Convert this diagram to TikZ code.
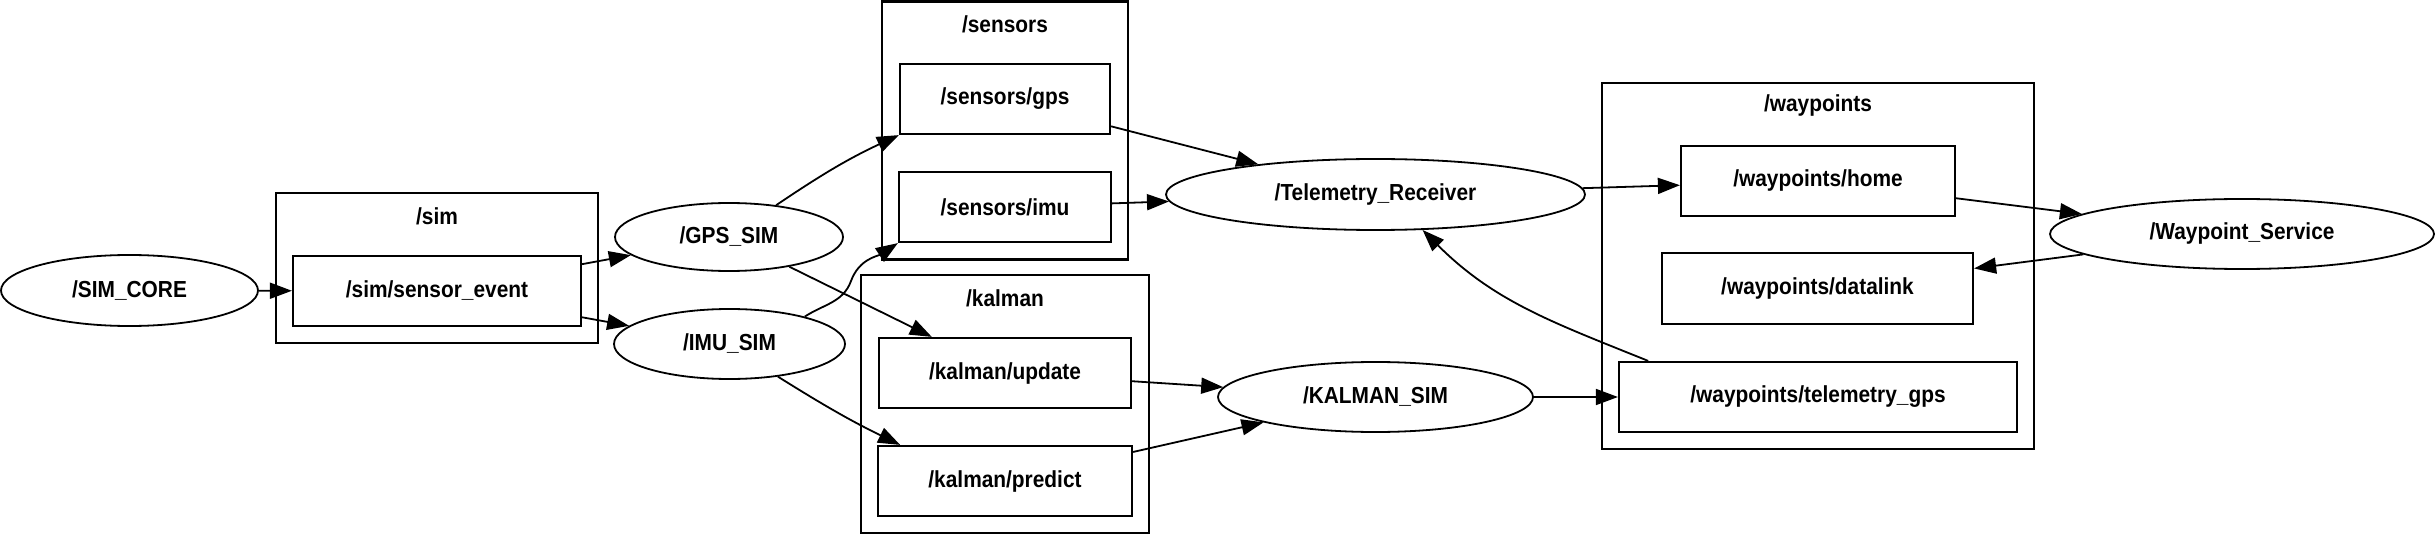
\documentclass[tikz,border=0pt]{standalone}
\usepackage{fontspec}
\setmainfont{Liberation Sans}[FakeStretch=0.9]
\usetikzlibrary{arrows.meta,shapes.geometric}

\begin{document}
\begin{tikzpicture}[
  x=0.5pt, y=-0.5pt,
  every node/.style={font=\bfseries\fontsize{11.6}{13}\selectfont, inner sep=0pt},
  rosnode/.style={ellipse, draw, line width=0.9pt},
  topic/.style={rectangle, draw, line width=1.1pt},
  group/.style={rectangle, draw, line width=1.1pt},
  arr/.style={-{Triangle[length=11pt,width=8pt]}, line width=0.9pt}
]
  \useasboundingbox (0,0) rectangle (2435,534);

  \node[group, minimum width=161pt, minimum height=75pt] (simgrp) at (437,268) {};
  \node (simlbl) at (437,216) {/sim};
  \node[group, minimum width=123pt, minimum height=129pt] (sensgrp) at (1005,130.5) {};
  \node (senslbl) at (1005,24) {/sensors};
  \node[group, minimum width=144pt, minimum height=129pt] (kalgrp) at (1005,404) {};
  \node (kallbl) at (1005,298) {/kalman};
  \node[group, minimum width=216pt, minimum height=183pt] (wpgrp) at (1818,266) {};
  \node (wplbl) at (1818,106) {/waypoints};

  \node[rosnode, minimum width=128.5pt, minimum height=35.5pt] (simcore) at (129.5,290.5) {/SIM\_CORE};
  \node[topic, minimum width=144pt, minimum height=35pt] (sev) at (437,291) {/sim/sensor\_event};
  \node[rosnode, minimum width=114pt, minimum height=34pt] (gpssim) at (729,237) {/GPS\_SIM};
  \node[rosnode, minimum width=115.5pt, minimum height=35pt] (imusim) at (729.5,344) {/IMU\_SIM};
  \node[topic, minimum width=105pt, minimum height=35pt] (sgps) at (1005,99) {/sensors/gps};
  \node[topic, minimum width=106pt, minimum height=35pt] (simu) at (1005,207) {/sensors/imu};
  \node[topic, minimum width=126pt, minimum height=35pt] (kupd) at (1005,373) {/kalman/update};
  \node[topic, minimum width=127pt, minimum height=35pt] (kpred) at (1005,481) {/kalman/predict};
  \node[rosnode, minimum width=209.5pt, minimum height=35.5pt] (telem) at (1375.5,194.5) {/Telemetry\_Receiver};
  \node[rosnode, minimum width=157.5pt, minimum height=35pt] (kalsim) at (1375.5,397) {/KALMAN\_SIM};
  \node[topic, minimum width=137pt, minimum height=35pt] (whome) at (1818,181) {/waypoints/home};
  \node[topic, minimum width=155.5pt, minimum height=35.5pt] (wdl) at (1817.5,288.5) {/waypoints/datalink};
  \node[topic, minimum width=199pt, minimum height=35pt] (wtgps) at (1818,397) {/waypoints/telemetry\_gps};
  \node[rosnode, minimum width=192pt, minimum height=35pt] (wsrv) at (2242,234) {/Waypoint\_Service};

  \coordinate (imuknee) at (851,281);

  \draw[arr] (simcore) -- (sev);
  \draw[arr] (sev) -- (gpssim);
  \draw[arr] (sev) -- (imusim);
  \draw[arr] (gpssim.34) to[out=34,in=205] (sgps.south west);
  \draw[arr] (imusim.20) to[out=33,in=250] (imuknee) to[out=70,in=213] (simu.south west);
  \draw[arr] (gpssim) -- (kupd);
  \draw[arr] (imusim.326) to[out=-32,in=154] (kpred.161);
  \draw[arr] (sgps) -- (telem);
  \draw[arr] (simu) -- (telem);
  \draw[arr] (kupd) -- (kalsim);
  \draw[arr] (kpred) -- (kalsim);
  \draw[arr] (kalsim) -- (wtgps);
  \draw[arr] (telem) -- (whome);
  \draw[arr] (whome) -- (wsrv);
  \draw[arr] (wsrv) -- (wdl);
  \draw[arr] (wtgps.168) to[out=158,in=-45] (telem.323);
\end{tikzpicture}
\end{document}
